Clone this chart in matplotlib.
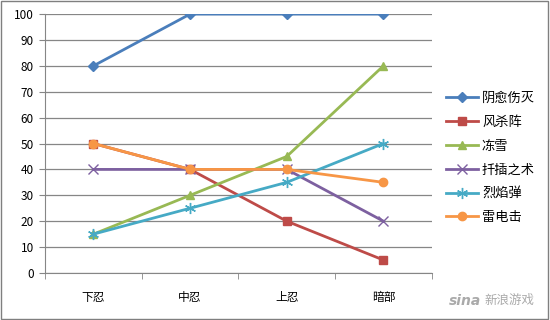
import matplotlib.pyplot as plt
import numpy as np
from matplotlib.patches import Rectangle

plt.rcParams['font.family'] = ['Noto Sans CJK SC', 'DejaVu Sans']

categories = ["下忍", "中忍", "上忍", "暗部"]
series_names = ["阴愈伤灭", "风杀阵", "冻雪", "扦插之术", "烈焰弹", "雷电击"]
yinyu = [80, 100, 100, 100]
fengsha = [50, 40, 20, 5]
dongxue = [15, 30, 45, 80]
qiancha = [40, 40, 40, 20]
lieyan = [15, 25, 35, 50]
leidian = [50, 40, 40, 35]
yticks = [0, 10, 20, 30, 40, 50, 60, 70, 80, 90, 100]

values = [yinyu, fengsha, dongxue, qiancha, lieyan, leidian]
colors = ["#4A7EBB", "#BE4B48", "#98B954", "#7D60A0", "#46AAC5", "#F79646"]
markers = ["D", "s", "^", "x", (6, 2, 0), "o"]
msizes = [5, 6, 6, 7, 8, 6]

fig = plt.figure(figsize=(5.5, 3.2), dpi=100)
ax = fig.add_axes([0.082, 0.147, 0.703, 0.809])

x = np.arange(len(categories))
for name, v, c, m, ms in zip(series_names, values, colors, markers, msizes):
    ax.plot(x, v, color=c, marker=m, markersize=ms, linewidth=2.0, label=name)

ax.set_xlim(-0.5, len(categories) - 0.5)
ax.set_ylim(0, 100)
ax.set_yticks(yticks)
ax.set_xticks(x)
ax.set_xticklabels(categories, fontsize=8.5)
ax.tick_params(axis='y', labelsize=8.5, length=4, color="#868686", pad=4)
ax.tick_params(axis='x', length=0, pad=13)
ax.set_xticks(np.arange(-0.5, len(categories)), minor=True)
ax.tick_params(axis='x', which='minor', length=4, color="#868686")
ax.grid(axis='y', color="#868686", linewidth=0.9)
ax.set_axisbelow(True)
for s in ["top", "right"]:
    ax.spines[s].set_visible(False)
ax.spines["left"].set_color("#868686")
ax.spines["bottom"].set_color("#868686")

fig.legend(loc="upper left", bbox_to_anchor=(0.79, 0.75), frameon=False,
           fontsize=9.5, labelspacing=0.82, handlelength=2.4, handletextpad=0.3)

fig.patches.append(Rectangle((0.002, 0.004), 0.995, 0.992, transform=fig.transFigure,
                             fill=False, edgecolor="#7F7F7F", linewidth=1))

fig.text(0.875, 0.06, "sina", fontsize=10, color="#AAAAAA", style="italic",
         fontweight="bold", ha="right", va="center", family="DejaVu Sans")
fig.text(0.88, 0.06, "新浪游戏", fontsize=9, color="#AAAAAA", style="italic",
         ha="left", va="center")

fig.savefig("out.png", dpi=100)
